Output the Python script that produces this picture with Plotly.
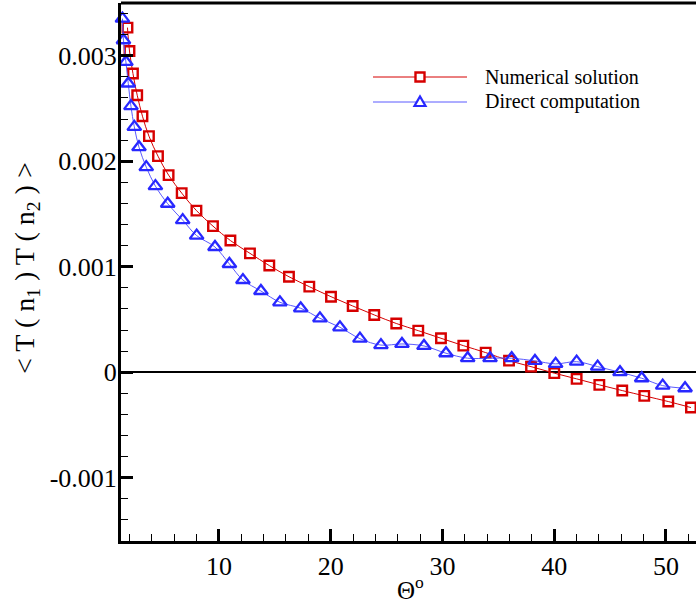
import plotly.graph_objects as go

# ---------------- data ----------------
theta_num = [1.82, 2.00, 2.31, 2.69, 3.16, 3.74, 4.55, 5.50, 6.67, 7.99, 9.47, 11.03,
             12.78, 14.51, 16.27, 18.09, 20.03, 21.97, 23.90, 25.87, 27.84, 29.87,
             31.87, 33.87, 35.96, 37.93, 40.01, 42.01, 44.04, 46.09, 48.06, 50.21, 52.24]
corr_num = [0.003267, 0.003045, 0.002831, 0.002626, 0.002427, 0.002238, 0.002048,
            0.001868, 0.001698, 0.001532, 0.001385, 0.001248, 0.001127, 0.001011,
            0.000905, 0.000811, 0.000716, 0.000628, 0.000543, 0.000462, 0.000394,
            0.000322, 0.000252, 0.000186, 0.000110, 0.000053, -0.000009, -0.000063,
            -0.000120, -0.000174, -0.000224, -0.000278, -0.000335]

theta_dir = [1.37, 1.46, 1.68, 1.89, 2.13, 2.43, 2.85, 3.50, 4.32, 5.42, 6.76, 8.01,
             9.65, 10.94, 12.15, 13.76, 15.46, 17.32, 19.04, 20.83, 22.62, 24.50,
             26.38, 28.35, 30.32, 32.26, 34.26, 36.20, 38.28, 40.13, 42.01, 43.89,
             45.89, 47.83, 49.71, 51.71]
corr_dir = [0.003352, 0.003147, 0.002941, 0.002737, 0.002522, 0.002326, 0.002133,
            0.001944, 0.001764, 0.001597, 0.001442, 0.001295, 0.001187, 0.001026,
            0.000874, 0.000770, 0.000663, 0.000606, 0.000511, 0.000426, 0.000318,
            0.000257, 0.000268, 0.000249, 0.000180, 0.000133, 0.000133, 0.000133,
            0.000107, 0.000079, 0.000100, 0.000053, 0.000000, -0.000057, -0.000127,
            -0.000152]

series_names = ["Numerical solution", "Direct computation"]
x_tickvals = [10, 20, 30, 40, 50]
x_ticktext = ["10", "20", "30", "40", "50"]
y_tickvals = [-0.001, 0, 0.001, 0.002, 0.003]
y_ticktext = ["-0.001", "0", "0.001", "0.002", "0.003"]

RED = "rgb(214,0,0)"
BLUE = "rgb(40,40,255)"
LINE_BLUE = "rgb(90,90,255)"
FONT = "Liberation Serif"

W, H = 696, 603
ML, MR, MT, MB = 121, 0, 3, 62
PW, PH = W - ML - MR, H - MT - MB


def px_x(p):
    return (p - ML) / PW


def px_y(p):
    return (H - MB - p) / PH


fig = go.Figure()
fig.add_trace(go.Scatter(
    x=theta_num, y=corr_num, mode="lines+markers", name=series_names[0],
    line=dict(color=RED, width=1, shape="spline"),
    marker=dict(symbol="square-open", size=9.5, color=RED, line=dict(width=2.4, color=RED)),
    cliponaxis=False, showlegend=False))
fig.add_trace(go.Scatter(
    x=theta_dir, y=corr_dir, mode="lines+markers", name=series_names[1],
    line=dict(color=LINE_BLUE, width=1, shape="spline"),
    marker=dict(symbol="triangle-up-open", size=12, color=BLUE, line=dict(width=2.3, color=BLUE)),
    cliponaxis=False, showlegend=False))

fig.update_layout(
    width=W, height=H,
    margin=dict(l=ML, r=MR, t=MT, b=MB, pad=0),
    paper_bgcolor="white", plot_bgcolor="white",
    font=dict(family=FONT, size=26, color="black"),
    showlegend=False,
)

fig.update_xaxes(
    range=[1.24, 52.69], showgrid=False, zeroline=False,
    showline=True, linecolor="black", linewidth=3,
    ticks="inside", ticklen=12, tickwidth=3, tickcolor="black",
    tickmode="array", tickvals=x_tickvals, ticktext=x_ticktext,
    tickfont=dict(family=FONT, size=26, color="black"),
    minor=dict(ticks="inside", ticklen=7, tickwidth=1, tickcolor="black",
               tickmode="linear", tick0=0, dtick=2, showgrid=False),
)
fig.update_yaxes(
    range=[-0.0016, 0.0035], showgrid=False,
    zeroline=True, zerolinecolor="black", zerolinewidth=1.5,
    showline=True, linecolor="black", linewidth=3,
    ticks="inside", ticklen=12, tickwidth=3, tickcolor="black",
    tickmode="array", tickvals=y_tickvals, ticktext=y_ticktext,
    tickfont=dict(family=FONT, size=26, color="black"),
    ticklabelstandoff=-4,
    minor=dict(ticks="inside", ticklen=7, tickwidth=1, tickcolor="black",
               tickmode="linear", tick0=0, dtick=0.0002, showgrid=False),
)

# top frame line
fig.add_shape(type="line", xref="paper", yref="paper", x0=0, x1=1, y0=1, y1=1,
              line=dict(color="black", width=3))

# axis titles
fig.add_annotation(text="Θ<sup>o</sup>", xref="paper", yref="paper",
                   x=px_x(410), y=px_y(588), xanchor="center", yanchor="middle",
                   showarrow=False, font=dict(family=FONT, size=25, color="black"))
fig.add_annotation(text="< T ( n<sub>1</sub> ) T ( n<sub>2</sub> ) >", xref="paper", yref="paper",
                   x=px_x(26), y=px_y(268), xanchor="center", yanchor="middle",
                   textangle=-90, showarrow=False,
                   font=dict(family=FONT, size=28, color="black"))

# manual legend
leg_rows = [(77, RED, RED, "square"), (102, BLUE, LINE_BLUE, "triangle")]
for (py, col, lcol, sym), name in zip(leg_rows, series_names):
    fig.add_shape(type="line", xref="paper", yref="paper",
                  x0=px_x(373), x1=px_x(467), y0=px_y(py), y1=px_y(py),
                  line=dict(color=lcol, width=1))
    if sym == "square":
        fig.add_shape(type="rect", xref="paper", yref="paper",
                      xsizemode="pixel", ysizemode="pixel",
                      xanchor=px_x(420), yanchor=px_y(py),
                      x0=-4.5, x1=4.5, y0=-4.5, y1=4.5,
                      line=dict(color=col, width=2.4), fillcolor="white")
    else:
        fig.add_shape(type="path", xref="paper", yref="paper",
                      xsizemode="pixel", ysizemode="pixel",
                      xanchor=px_x(420), yanchor=px_y(py),
                      path="M -5.5 -4 L 5.5 -4 L 0 5.5 Z",
                      line=dict(color=col, width=2.2), fillcolor="white")
    fig.add_annotation(text=name, xref="paper", yref="paper",
                       x=px_x(483), y=px_y(py), xanchor="left", yanchor="middle",
                       showarrow=False, font=dict(family=FONT, size=20, color="black"))

fig.write_html("out.html")
